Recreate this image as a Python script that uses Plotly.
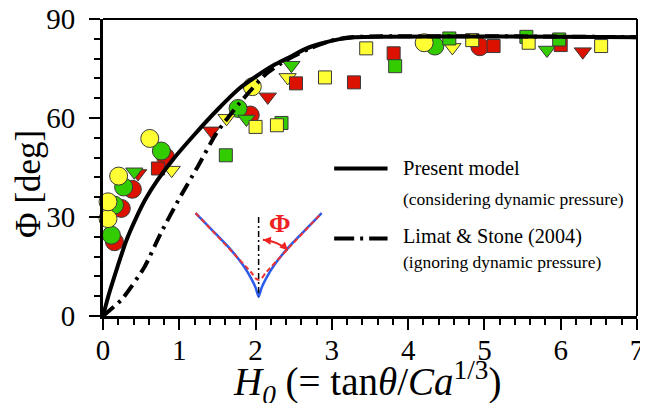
import plotly.graph_objects as go

# ---------------- data ----------------
# Present model (considering dynamic pressure)
model_x = [0, 0.08, 0.19, 0.30, 0.43, 0.56, 0.71, 0.92, 1.20, 1.50, 1.79, 2.00, 2.23, 2.45, 2.66, 2.85, 3.10, 3.30, 7.0]
model_y = [0, 6.8, 14.9, 22.5, 29.5, 35.5, 41.0, 47.5, 55.0, 62.5, 69.0, 72.5, 75.9, 78.5, 81.0, 82.5, 83.9, 84.5, 84.5]

# Limat & Stone (2004) (ignoring dynamic pressure)
limat_x = [0, 0.245, 0.54, 0.76, 1.00, 1.245, 1.49, 1.79, 2.14, 2.40, 2.70, 3.00, 3.25, 7.0]
limat_y = [0, 5.0, 14.7, 25.2, 35.6, 45.4, 55.5, 64.5, 73.4, 77.5, 81.0, 83.5, 84.5, 84.5]

# experiments: circles
red_circle_x = [0.15, 0.24, 0.385, 0.82, 1.93, 4.94]
red_circle_y = [22.5, 32.6, 38.4, 48.2, 60.9, 81.6]
green_circle_x = [0.11, 0.15, 0.27, 0.765, 1.77, 4.35]
green_circle_y = [24.5, 33.6, 39.1, 50.0, 62.9, 81.8]
yellow_circle_x = [0.066, 0.066, 0.205, 0.613, 1.957, 4.21]
yellow_circle_y = [29.5, 34.6, 42.4, 53.8, 69.5, 82.8]

# experiments: down triangles
red_tri_x = [0.46, 1.42, 2.16, 6.29]
red_tri_y = [43.2, 56.1, 66.4, 80.1]
green_tri_x = [0.41, 1.88, 2.47, 5.82]
green_tri_y = [43.7, 59.7, 76.0, 80.6]
yellow_tri_x = [0.90, 1.62, 2.42, 4.58]
yellow_tri_y = [44.2, 59.9, 72.3, 81.4]

# experiments: squares
red_sq_x = [0.72, 2.53, 3.29, 3.81, 5.12, 6.00]
red_sq_y = [44.7, 70.5, 70.8, 79.6, 81.8, 82.1]
green_sq_x = [1.61, 2.34, 3.83, 4.54, 5.55, 5.98]
green_sq_y = [48.7, 58.5, 75.7, 84.1, 84.6, 83.8]
yellow_sq_x = [2.00, 2.28, 2.91, 3.45, 4.84, 5.58, 6.53]
yellow_sq_y = [57.3, 57.8, 72.3, 81.1, 83.6, 82.8, 81.8]

# inset sketch (meniscus) in axis units
blue_x = [1.214, 1.44, 1.66, 1.83, 1.94, 2.00, 2.04, 2.08, 2.14, 2.25, 2.42, 2.64, 2.866]
blue_y = [31.2, 25.8, 20.5, 15.6, 11.5, 8.6, 5.8, 8.6, 11.5, 15.6, 20.5, 25.8, 31.2]
reddash_x = [1.214, 1.95, 2.00, 2.04, 2.08, 2.13, 2.866]
reddash_y = [31.2, 13.0, 11.4, 11.0, 11.4, 13.0, 31.2]

x_ticks = [0, 1, 2, 3, 4, 5, 6, 7]
y_ticks = [0, 30, 60, 90]

# ---------------- styles ----------------
RED = "#dd1100"
GREEN = "#33cc00"
YELLOW = "#ffff33"
EDGE = dict(color="#3a3a3a", width=1)
SERIF = "Liberation Serif"

fig = go.Figure()

def add_markers(xs, ys, color, symbol, size):
    fig.add_trace(go.Scatter(
        x=xs, y=ys, mode="markers", cliponaxis=False, showlegend=False,
        marker=dict(color=color, symbol=symbol, size=size, line=EDGE)))

for xs, ys, c in [(red_circle_x, red_circle_y, RED), (green_circle_x, green_circle_y, GREEN),
                  (yellow_circle_x, yellow_circle_y, YELLOW)]:
    add_markers(xs, ys, c, "circle", 18)
for xs, ys, c in [(red_tri_x, red_tri_y, RED), (green_tri_x, green_tri_y, GREEN),
                  (yellow_tri_x, yellow_tri_y, YELLOW)]:
    add_markers(xs, ys, c, "triangle-down", 15)
for xs, ys, c in [(red_sq_x, red_sq_y, RED), (green_sq_x, green_sq_y, GREEN),
                  (yellow_sq_x, yellow_sq_y, YELLOW)]:
    add_markers(xs, ys, c, "square", 13)

# model curves (on top of markers)
fig.add_trace(go.Scatter(x=limat_x, y=limat_y, mode="lines", showlegend=False,
                         line=dict(color="black", width=4, dash="14px,6px,3px,6px",
                                   shape="spline", smoothing=0.6)))
fig.add_trace(go.Scatter(x=model_x, y=model_y, mode="lines", showlegend=False,
                         line=dict(color="black", width=4, shape="spline", smoothing=0.6)))

# inset sketch
fig.add_trace(go.Scatter(x=blue_x, y=blue_y, mode="lines", showlegend=False,
                         line=dict(color="#2a5bea", width=2.5, shape="spline", smoothing=0.5)))
fig.add_trace(go.Scatter(x=reddash_x, y=reddash_y, mode="lines", showlegend=False,
                         line=dict(color="#ee3333", width=2, dash="5px,3px", shape="spline", smoothing=0.5)))

shapes = [
    # frame top & right
    dict(type="line", xref="paper", yref="paper", x0=0, y0=1, x1=1, y1=1, line=dict(color="black", width=2)),
    dict(type="line", xref="paper", yref="paper", x0=1, y0=0, x1=1, y1=1, line=dict(color="black", width=2)),
    # inset axis of symmetry
    dict(type="line", xref="x", yref="y", x0=2.04, y0=30.0, x1=2.04, y1=6.0,
         line=dict(color="black", width=1.5, dash="6px,3px,2px,3px")),
    # angle arc
    dict(type="path", xref="x", yref="y", path="M 2.096,23.1 Q 2.302,22.6 2.423,19.9",
         line=dict(color="#ee2222", width=1.8)),
    # legend samples
    dict(type="line", xref="x", yref="y", x0=3.03, y0=44.7, x1=3.73, y1=44.7,
         line=dict(color="black", width=4)),
    dict(type="line", xref="x", yref="y", x0=3.03, y0=23.5, x1=3.73, y1=23.5,
         line=dict(color="black", width=4, dash="20px,6px,3px,6px")),
]

annotations = [
    # arc arrow heads
    dict(x=2.096, y=23.1, xref="x", yref="y", ax=9, ay=1, axref="pixel", ayref="pixel",
         showarrow=True, arrowhead=2, arrowsize=1, arrowwidth=1.6, arrowcolor="#ee2222", text=""),
    dict(x=2.423, y=19.9, xref="x", yref="y", ax=-6, ay=-6, axref="pixel", ayref="pixel",
         showarrow=True, arrowhead=2, arrowsize=1, arrowwidth=1.6, arrowcolor="#ee2222", text=""),
    dict(x=2.318, y=28.0, xref="x", yref="y", text="<b>Φ</b>", showarrow=False,
         font=dict(family=SERIF, size=26, color="#ee2222")),
    # legend text
    dict(x=3.91, y=44.8, xref="x", yref="y", xanchor="left", text="Present model", showarrow=False,
         font=dict(family=SERIF, size=20.5, color="black")),
    dict(x=3.91, y=35.6, xref="x", yref="y", xanchor="left", text="(considering dynamic pressure)",
         showarrow=False, font=dict(family=SERIF, size=17.5, color="black")),
    dict(x=3.91, y=24.0, xref="x", yref="y", xanchor="left", text="Limat &amp; Stone (2004)", showarrow=False,
         font=dict(family=SERIF, size=20.2, color="black")),
    dict(x=3.91, y=16.4, xref="x", yref="y", xanchor="left", text="(ignoring dynamic pressure)",
         showarrow=False, font=dict(family=SERIF, size=17.5, color="black")),
    # axis titles
    dict(x=(367.5 - 103.3) / 534.4, y=-0.224, xref="paper", yref="paper", xanchor="center", yanchor="middle",
         text="<i>H<sub>0</sub></i> (= tan<i>θ</i>/<i>Ca</i><sup>1/3</sup>)", showarrow=False,
         font=dict(family=SERIF, size=39, color="black")),
    dict(x=(28 - 103.3) / 534.4, y=(315.7 - 184.0) / 296.7, xref="paper", yref="paper",
         xanchor="center", yanchor="middle", textangle=-90,
         text="Φ [deg]", showarrow=False, font=dict(family=SERIF, size=35, color="black")),
]

axis_common = dict(showgrid=False, zeroline=False, showline=True, linecolor="black", linewidth=3,
                   ticks="outside", tickcolor="black", tickwidth=2, ticklen=11, automargin=False,
                   ticklabeloverflow="allow",
                   tickfont=dict(family=SERIF, size=29, color="black"))

# page body has an 8px margin: figure is 640x395 so the plot lands at the reference position
fig.update_layout(
    template="none",
    width=640, height=395,
    margin=dict(l=95, r=10.6, t=11, b=87.3),
    plot_bgcolor="white", paper_bgcolor="white",
    shapes=shapes, annotations=annotations,
    xaxis=dict(range=[0, 7], tickvals=x_ticks, ticktext=[str(v) for v in x_ticks],
               minor=dict(dtick=0.2, ticks="outside", ticklen=6, tickwidth=1.5, tickcolor="black"),
               ticklabelstandoff=-5, **axis_common),
    yaxis=dict(range=[0, 90], tickvals=y_ticks, ticktext=[str(v) for v in y_ticks],
               minor=dict(dtick=6, ticks="outside", ticklen=6, tickwidth=1.5, tickcolor="black"),
               ticklabelstandoff=8, **axis_common),
)

fig.write_html("out.html")
